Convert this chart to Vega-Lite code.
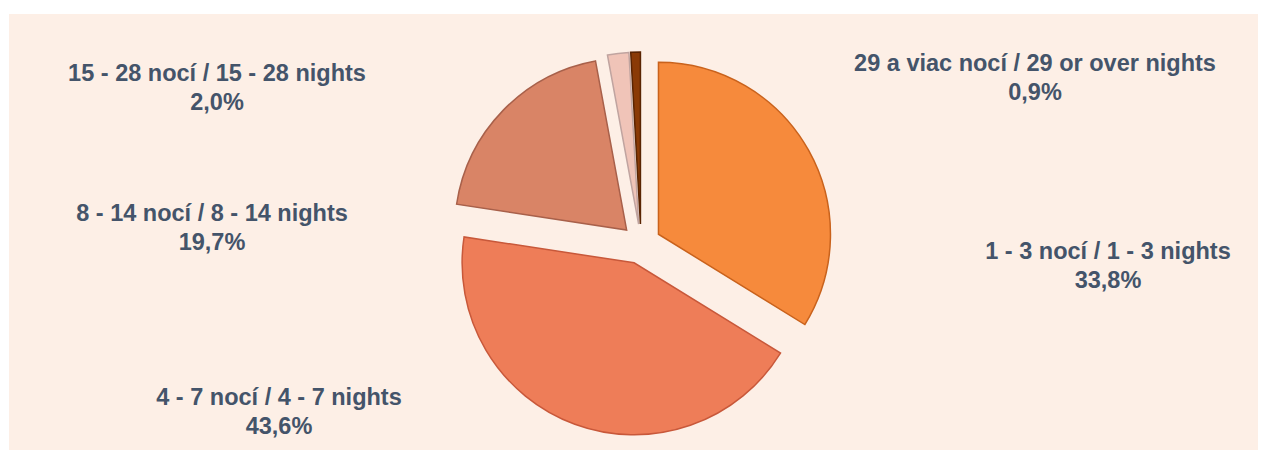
{
  "$schema": "https://vega.github.io/schema/vega-lite/v6.json",
  "width": 1268,
  "height": 455,
  "autosize": {"type": "fit", "contains": "padding"},
  "padding": {"left": 9, "top": 14, "right": 10, "bottom": 5},
  "background": "#ffffff",
  "view": {"fill": "#fdefe6", "stroke": null},
  "data": {
    "values": [
      {"kategoria": "1 - 3 nocí / 1 - 3 nights", "podiel": 0.338, "poradie": 1},
      {"kategoria": "4 - 7 nocí / 4 - 7 nights", "podiel": 0.436, "poradie": 2},
      {"kategoria": "8 - 14 nocí / 8 - 14 nights", "podiel": 0.197, "poradie": 3},
      {"kategoria": "15 - 28 nocí / 15 - 28 nights", "podiel": 0.02, "poradie": 4},
      {"kategoria": "29 a viac nocí / 29 or over nights", "podiel": 0.009, "poradie": 5}
    ]
  },
  "transform": [
    {"window": [{"op": "sum", "field": "podiel", "as": "kumul"}], "sort": [{"field": "poradie"}], "frame": [null, 0]},
    {"calculate": "2 * PI * (datum.kumul - datum.podiel / 2)", "as": "stred"},
    {"calculate": "datum.kategoria + '\\n' + replace(format(datum.podiel, '.1%'), '.', ',')", "as": "popis"}
  ],
  "layer": [
    {
      "mark": {
        "type": "arc",
        "outerRadius": 172,
        "strokeWidth": 1.5,
        "xOffset": {"expr": "7.5 + 20 * sin(datum.stred)"},
        "yOffset": {"expr": "12 - 20 * cos(datum.stred)"}
      },
      "encoding": {
        "theta": {"field": "podiel", "type": "quantitative", "stack": true},
        "order": {"field": "poradie", "type": "quantitative"},
        "fill": {
          "field": "kategoria",
          "type": "nominal",
          "legend": null,
          "scale": {
            "domain": ["1 - 3 nocí / 1 - 3 nights", "4 - 7 nocí / 4 - 7 nights", "8 - 14 nocí / 8 - 14 nights", "15 - 28 nocí / 15 - 28 nights", "29 a viac nocí / 29 or over nights"],
            "range": ["#f68a3c", "#ee7d58", "#d98466", "#f0c4b8", "#8a3a06"]
          }
        },
        "stroke": {
          "field": "kategoria",
          "type": "nominal",
          "legend": null,
          "scale": {
            "domain": ["1 - 3 nocí / 1 - 3 nights", "4 - 7 nocí / 4 - 7 nights", "8 - 14 nocí / 8 - 14 nights", "15 - 28 nocí / 15 - 28 nights", "29 a viac nocí / 29 or over nights"],
            "range": ["#c9621c", "#c8583a", "#a8604a", "#c0a4a0", "#5a2402"]
          }
        }
      }
    },
    {
      "transform": [{"filter": "datum.poradie == 1"}],
      "mark": {"type": "text", "dx": 474.5, "dy": 20, "lineBreak": "\n", "lineHeight": 29, "font": "Liberation Sans", "fontWeight": "bold", "fontSize": 23.5, "color": "#44546a", "align": "center", "baseline": "middle"},
      "encoding": {"text": {"field": "popis"}}
    },
    {
      "transform": [{"filter": "datum.poradie == 2"}],
      "mark": {"type": "text", "dx": -354.5, "dy": 165.5, "lineBreak": "\n", "lineHeight": 29, "font": "Liberation Sans", "fontWeight": "bold", "fontSize": 23.5, "color": "#44546a", "align": "center", "baseline": "middle"},
      "encoding": {"text": {"field": "popis"}}
    },
    {
      "transform": [{"filter": "datum.poradie == 3"}],
      "mark": {"type": "text", "dx": -421.5, "dy": -18, "lineBreak": "\n", "lineHeight": 29, "font": "Liberation Sans", "fontWeight": "bold", "fontSize": 23.5, "color": "#44546a", "align": "center", "baseline": "middle"},
      "encoding": {"text": {"field": "popis"}}
    },
    {
      "transform": [{"filter": "datum.poradie == 4"}],
      "mark": {"type": "text", "dx": -416.5, "dy": -158, "lineBreak": "\n", "lineHeight": 29, "font": "Liberation Sans", "fontWeight": "bold", "fontSize": 23.5, "color": "#44546a", "align": "center", "baseline": "middle"},
      "encoding": {"text": {"field": "popis"}}
    },
    {
      "transform": [{"filter": "datum.poradie == 5"}],
      "mark": {"type": "text", "dx": 401.5, "dy": -168, "lineBreak": "\n", "lineHeight": 29, "font": "Liberation Sans", "fontWeight": "bold", "fontSize": 23.5, "color": "#44546a", "align": "center", "baseline": "middle"},
      "encoding": {"text": {"field": "popis"}}
    }
  ]
}
